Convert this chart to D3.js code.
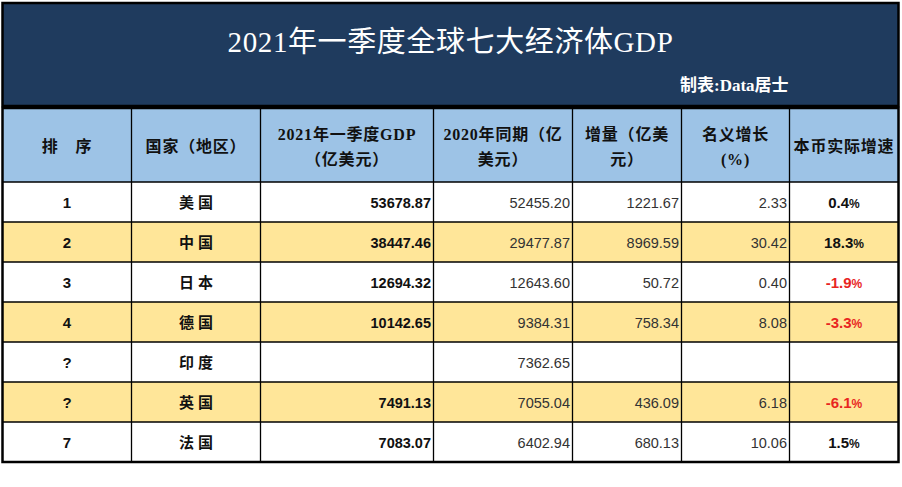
<!DOCTYPE html>
<html><head><meta charset="utf-8">
<script src="https://cdn.jsdelivr.net/npm/d3@7/dist/d3.min.js"></script>
<style>
html,body{margin:0;padding:0;background:#fff;}
svg{display:block;}
</style></head>
<body>
<script>
// ---- data ----
const title = "2021年一季度全球七大经济体GDP";
const caption = "制表:Data居士";
const headers = [["排　序"],["国家（地区）"],["2021年一季度GDP","（亿美元）"],["2020年同期（亿","美元）"],["增量（亿美","元）"],["名义增长","(%)"],["本币实际增速"]];
const ranks = ["1","2","3","4","?","?","7"];
const countries = ["美 国","中 国","日 本","德 国","印 度","英 国","法 国"];
const gdp2021 = ["53678.87","38447.46","12694.32","10142.65","","7491.13","7083.07"];
const gdp2020 = ["52455.20","29477.87","12643.60","9384.31","7362.65","7055.04","6402.94"];
const increase = ["1221.67","8969.59","50.72","758.34","","436.09","680.13"];
const nominal = ["2.33","30.42","0.40","8.08","","6.18","10.06"];
const realGrowth = [0.4, 18.3, -1.9, -3.3, null, -6.1, 1.5];

// ---- layout ----
const W = 902, H = 487;
const colWidths = [129, 129, 173, 139, 109, 108, 109];
const svg = d3.select("body").append("svg").attr("width", W).attr("height", H);

const cum = [0]; colWidths.forEach(w => cum.push(cum[cum.length-1] + w));
const x = d3.scaleLinear().domain([0, cum[cum.length-1]]).range([2.5, 2.5 + cum[cum.length-1]]);
const left = x(0), right = x(cum[cum.length-1]);
const rows = d3.range(ranks.length);
const y = d3.scaleBand().domain(rows).range([182, 462]);

// title band
svg.append("rect").attr("x", left).attr("y", 3).attr("width", right-left).attr("height", 103).attr("fill", "#1F3B5E");
svg.append("text").attr("x", (left+right)/2).attr("y", 52).attr("text-anchor","middle")
  .attr("font-family","'Liberation Serif','Noto Sans CJK SC',serif").attr("font-size", 29)
  .attr("letter-spacing", 0.6)
  .attr("fill","#fff").text(title);
svg.append("text").attr("x", 680).attr("y", 91)
  .attr("font-family","'Liberation Serif','Noto Sans CJK SC',serif").attr("font-size", 17).attr("font-weight","bold")
  .attr("fill","#fff").text(caption);

// header
svg.append("rect").attr("x", left).attr("y", 108).attr("width", right-left).attr("height", 74).attr("fill", "#9DC3E6");
headers.forEach((h, i) => {
  const cx = (x(cum[i]) + x(cum[i+1]))/2;
  const t = svg.append("text").attr("text-anchor","middle")
    .attr("font-family","'Liberation Serif','Noto Sans CJK SC',sans-serif").attr("font-size", 16).attr("font-weight","bold")
    .attr("letter-spacing", 0.8)
    .attr("fill","#111");
  if (h.length === 1) {
    t.attr("x", cx).attr("y", 152).text(h[0]);
  } else {
    t.append("tspan").attr("x", cx).attr("y", 140).text(h[0]);
    t.append("tspan").attr("x", cx).attr("y", 165).text(h[1]);
  }
});

// rows
rows.forEach(r => {
  svg.append("rect").attr("x", left).attr("y", y(r)).attr("width", right-left).attr("height", y.bandwidth())
    .attr("fill", r % 2 === 1 ? "#FFE699" : "#FFFFFF");
});

const cy = r => y(r) + y.bandwidth()/2 + 5.5;
const textCols = [
  {data: ranks, anchor:"middle", bold:true, size:15, color:"#111"},
  {data: countries, anchor:"middle", bold:true, size:15, color:"#111"},
  {data: gdp2021, anchor:"end", bold:true, size:14.5, color:"#111"},
  {data: gdp2020, anchor:"end", bold:false, size:14.5, color:"#333"},
  {data: increase, anchor:"end", bold:false, size:14.5, color:"#333"},
  {data: nominal, anchor:"end", bold:false, size:14.5, color:"#333"}
];
textCols.forEach((c, i) => {
  svg.append("g").selectAll("text").data(c.data).join("text")
    .attr("x", c.anchor === "middle" ? (x(cum[i]) + x(cum[i+1]))/2 : x(cum[i+1]) - 2.5)
    .attr("y", (d, r) => cy(r))
    .attr("text-anchor", c.anchor)
    .attr("font-family", "'Liberation Sans','Noto Sans CJK SC',sans-serif")
    .attr("font-size", c.size)
    .attr("font-weight", c.bold ? "bold" : "normal")
    .attr("fill", c.color)
    .attr("xml:space","preserve")
    .text(d => d);
});
svg.append("g").selectAll("text").data(realGrowth).join("text")
  .attr("x", (x(cum[6]) + x(cum[7]))/2)
  .attr("y", (d, r) => cy(r))
  .attr("text-anchor","middle")
  .attr("font-family","'Liberation Sans',sans-serif").attr("font-size", 15).attr("font-weight","bold")
  .attr("fill", d => d < 0 ? "#E8251F" : "#111")
  .each(function(d){
    if (d === null) return;
    const t = d3.select(this);
    t.append("tspan").text(d3.format(".1f")(d).replace("−","-"));
    t.append("tspan").attr("font-size", 12).text("%");
  });

// grid lines
const g = svg.append("g").attr("stroke","#000").attr("fill","none");
rows.forEach(r => {
  g.append("line").attr("x1", left).attr("x2", right).attr("y1", y(r)).attr("y2", y(r)).attr("stroke-width", 1.3);
});
cum.slice(1, -1).forEach(c => {
  g.append("line").attr("x1", x(c)).attr("x2", x(c)).attr("y1", 108).attr("y2", 462).attr("stroke-width", 1.3);
});
g.append("rect").attr("x", left).attr("y", 108).attr("width", right-left).attr("height", 462-108).attr("stroke-width", 2.5);
g.append("rect").attr("x", left).attr("y", 3).attr("width", right-left).attr("height", 103).attr("stroke-width", 2.5);
</script>
</body></html>
